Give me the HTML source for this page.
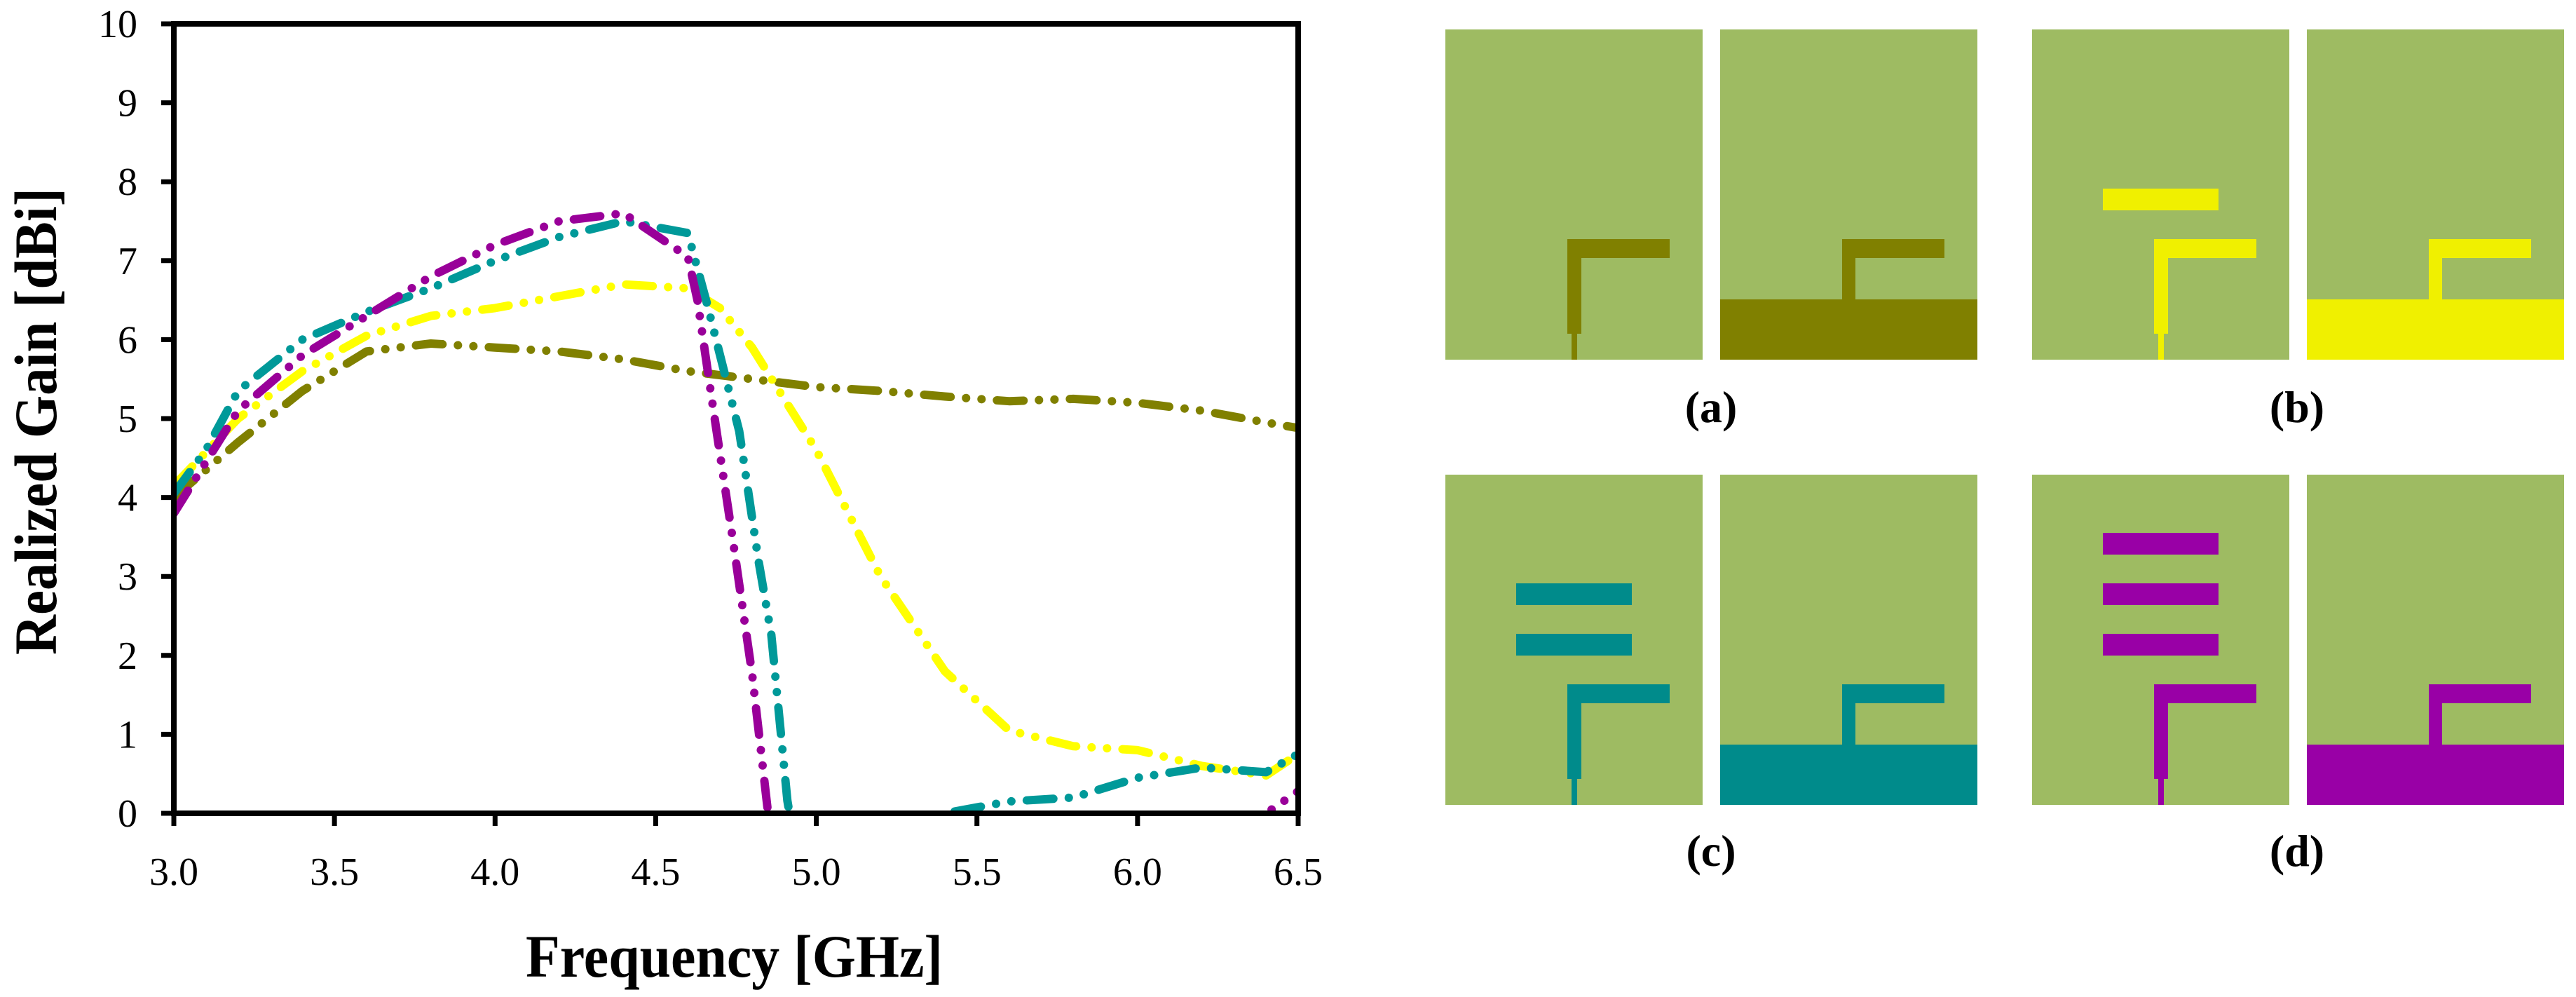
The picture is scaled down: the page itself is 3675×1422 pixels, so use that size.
<!DOCTYPE html>
<html><head><meta charset="utf-8"><style>
html,body{margin:0;padding:0;background:#fff;}
svg{display:block;}
text{font-family:"Liberation Serif","Times New Roman",serif;fill:#000;}
</style></head><body>
<svg id="fig" width="3675" height="1422" viewBox="0 0 3675 1422" xmlns="http://www.w3.org/2000/svg">
<defs><clipPath id="plotclip"><rect x="248" y="34" width="1604" height="1126"/></clipPath></defs>
<g id="chart"></g>
<g id="panels"></g>
</svg>
<script>
const xTicks=[3.0,3.5,4.0,4.5,5.0,5.5,6.0,6.5];
const yTicks=[0,1,2,3,4,5,6,7,8,9,10];
const olFreq=[3.0,3.2,3.4,3.6,3.8,4.0,4.2,4.4,4.6,4.8,5.0,5.2,5.4,5.6,5.8,6.0,6.2,6.4,6.5];
const olGain=[4.0,4.7,5.35,5.85,5.95,5.9,5.85,5.75,5.6,5.5,5.4,5.35,5.28,5.22,5.25,5.2,5.1,4.95,4.88];
const yeFreq=[3.0,3.2,3.4,3.6,3.8,4.0,4.2,4.4,4.6,4.7,4.8,4.9,5.0,5.2,5.4,5.6,5.8,6.0,6.2,6.4,6.5];
const yeGain=[4.15,5.0,5.6,6.05,6.3,6.4,6.55,6.7,6.65,6.4,5.9,5.25,4.6,3.0,1.8,1.05,0.85,0.8,0.6,0.48,0.75];
const teFreq=[3.0,3.1,3.2,3.4,3.6,3.8,4.0,4.2,4.4,4.6,4.66,4.76,4.82,4.86,4.91,5.0,5.2,5.4,5.6,5.8,6.0,6.2,6.4,6.5];
const teGain=[4.05,4.6,5.35,6.0,6.35,6.65,7.0,7.3,7.5,7.35,6.45,4.84,3.2,2.26,0.16,-2,-2,0.0,0.15,0.2,0.45,0.58,0.52,0.75];
const puFreq=[3.0,3.2,3.4,3.6,3.8,4.0,4.2,4.4,4.6,4.63,4.68,4.74,4.8,4.85,4.95,6.2,6.4,6.5];
const puGain=[3.8,5.1,5.8,6.3,6.8,7.2,7.5,7.6,7.05,6.5,5.1,3.47,1.77,0.0,-2,-2,0.0,0.28];

const NS='http://www.w3.org/2000/svg';
const FF='Liberation Serif, serif';
const X0=248,X1=1852,Y0=1160,Y1=34;
function xs(v){return X0+(v-3.0)/(6.5-3.0)*(X1-X0);}
function ys(v){return Y0-(v-0)/(10-0)*(Y0-Y1);}
function mk(tag,attrs,parent){const e=document.createElementNS(NS,tag);for(const k in attrs)e.setAttribute(k,attrs[k]);parent.appendChild(e);return e;}
const chart=document.getElementById('chart');

const series=[[olFreq,olGain,'#808000','series-olive-a'],[yeFreq,yeGain,'#ffff00','series-yellow-b'],[teFreq,teGain,'#009999','series-teal-c'],[puFreq,puGain,'#990099','series-purple-d']];
const sg=mk('g',{'clip-path':'url(#plotclip)'},chart);


for(const s of series){
  let d='';
  for(let i=0;i<s[0].length;i++){d+=(i?'L':'M')+xs(s[0][i]).toFixed(1)+' '+ys(s[1][i]).toFixed(1);}
  const p=mk('path',{d:d,fill:'none',stroke:s[2],'stroke-width':12,'stroke-linecap':'round','stroke-linejoin':'round','stroke-dasharray':'38 22 0.1 22 0.1 22'},sg);
  
  
}
const frame=mk('rect',{x:X0,y:Y1,width:X1-X0,height:Y0-Y1,fill:'none',stroke:'#000','stroke-width':8},chart);


for(const t of yTicks){
  const y=ys(t);
  const l=mk('line',{x1:X0-18,x2:X0,y1:y,y2:y,stroke:'#000','stroke-width':7},chart);
  
  
  const tx=mk('text',{x:X0-52,y:y+19,'text-anchor':'end','font-size':56,'font-family':FF},chart);
  tx.textContent=String(t);
  
  
}
for(const t of xTicks){
  const x=xs(t);
  const l=mk('line',{x1:x,x2:x,y1:Y0,y2:Y0+18,stroke:'#000','stroke-width':7},chart);
  
  
  const tx=mk('text',{x:x,y:1262,'text-anchor':'middle','font-size':56,'font-family':FF},chart);
  tx.textContent=t.toFixed(1);
  
  
}
const xt=mk('text',{x:750,y:1393,'font-size':86,'font-weight':'bold','font-family':FF,textLength:595,lengthAdjust:'spacingAndGlyphs'},chart);
xt.textContent='Frequency [GHz]';


const yt=mk('text',{x:-333,y:0,'font-size':86,'font-weight':'bold','font-family':FF,textLength:666,lengthAdjust:'spacingAndGlyphs',transform:'translate(80,601) rotate(-90)'},chart);
yt.textContent='Realized Gain [dBi]';



const panels=document.getElementById('panels');
const G='#9ebb62';
const defsP=[
  {id:'a',c:'#808000',fx:2062,bx:2454,y:42,dirs:[],lx:2441,ly:602},
  {id:'b',c:'#f0f000',fx:2899,bx:3291,y:42,dirs:[227],lx:3277,ly:602},
  {id:'c',c:'#008b8b',fx:2062,bx:2454,y:677,dirs:[155,227],lx:2441,ly:1235},
  {id:'d',c:'#9900a6',fx:2899,bx:3291,y:677,dirs:[83,155,227],lx:3277,ly:1235}
];
const W=367,H=471;
for(const p of defsP){
  const g=mk('g',{},panels);
  
  
  const f=mk('g',{},g);
  
  
  mk('rect',{x:p.fx,y:p.y,width:W,height:H,fill:G},f);
  mk('rect',{x:p.fx+174,y:p.y+299,width:20,height:135,fill:p.c},f);
  mk('rect',{x:p.fx+174,y:p.y+299,width:146,height:27,fill:p.c},f);
  mk('rect',{x:p.fx+180,y:p.y+432,width:8,height:39,fill:p.c},f);
  for(const dy of p.dirs){mk('rect',{x:p.fx+101,y:p.y+dy,width:165,height:31,fill:p.c},f);}
  const b=mk('g',{},g);
  
  
  mk('rect',{x:p.bx,y:p.y,width:W,height:H,fill:G},b);
  mk('rect',{x:p.bx,y:p.y+385,width:W,height:86,fill:p.c},b);
  mk('rect',{x:p.bx+174,y:p.y+299,width:19,height:90,fill:p.c},b);
  mk('rect',{x:p.bx+174,y:p.y+299,width:146,height:27,fill:p.c},b);
  const lb=mk('text',{x:p.lx,y:p.ly,'text-anchor':'middle','font-size':64,'font-weight':'bold','font-family':FF},g);
  lb.textContent='('+p.id+')';
  
  
}
</script>
</body></html>
